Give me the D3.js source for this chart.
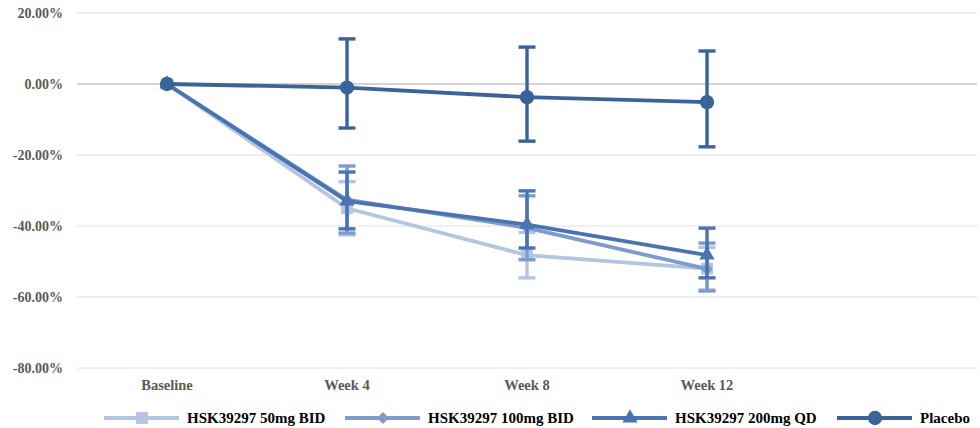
<!DOCTYPE html>
<html>
<head>
<meta charset="utf-8">
<script src="https://cdn.jsdelivr.net/npm/d3@7"></script>
<style>
  body { margin: 0; background: #fff; }
  text { font-family: "Liberation Serif", "Times New Roman", serif; font-weight: bold; }
</style>
</head>
<body>
<svg width="980" height="428"></svg>
<script>
// data
const categories = ["Baseline", "Week 4", "Week 8", "Week 12"];
const yTicks = [20, 0, -20, -40, -60, -80];

const seriesNames = ["HSK39297 50mg BID", "HSK39297 100mg BID", "HSK39297 200mg QD", "Placebo"];
const mean50 = [0, -35.0, -48.2, -52.0];
const low50 = [0, -42.5, -54.6, -58.0];
const high50 = [0, -27.5, -41.8, -46.0];
const mean100 = [0, -32.6, -40.5, -52.1];
const low100 = [0, -42.0, -49.5, -58.3];
const high100 = [0, -23.1, -31.5, -44.8];
const mean200 = [0, -33.0, -39.6, -48.2];
const low200 = [0, -40.8, -46.2, -54.6];
const high200 = [0, -24.8, -30.1, -40.6];
const meanPlacebo = [0, -1.0, -3.7, -5.1];
const lowPlacebo = [0, -12.4, -16.1, -17.7];
const highPlacebo = [0, 12.7, 10.4, 9.3];

const colors = ["#b4c5e3", "#7d9bcc", "#4a73b1", "#3a6398"];
const markers = ["square", "diamond", "triangle", "circle"];

const series = [
  {name: seriesNames[0], mean: mean50, low: low50, high: high50},
  {name: seriesNames[1], mean: mean100, low: low100, high: high100},
  {name: seriesNames[2], mean: mean200, low: low200, high: high200},
  {name: seriesNames[3], mean: meanPlacebo, low: lowPlacebo, high: highPlacebo}
];

const svg = d3.select("svg");
const left = 77, right = 977;

const x = d3.scaleBand()
    .domain(categories)
    .range([left, left + 720]);

const y = d3.scaleLinear()
    .domain([-80, 20])
    .range([368, 13]);

const cx = c => x(c) + x.bandwidth() / 2;

// gridlines
svg.append("g")
    .selectAll("line")
    .data(yTicks)
    .enter().append("line")
    .attr("x1", left).attr("x2", right)
    .attr("y1", d => y(d)).attr("y2", d => y(d))
    .attr("stroke", d => d === 0 ? "#d4d4d4" : "#e0e0e0")
    .attr("stroke-width", d => d === 0 ? 2.2 : 1);

// y labels
svg.append("g")
    .selectAll("text")
    .data(yTicks)
    .enter().append("text")
    .attr("x", 63)
    .attr("y", d => y(d))
    .attr("dy", "0.35em")
    .attr("text-anchor", "end")
    .attr("font-size", 14)
    .attr("fill", "#595959")
    .text(d => d.toFixed(2) + "%");

// x labels
svg.append("g")
    .selectAll("text")
    .data(categories)
    .enter().append("text")
    .attr("x", d => cx(d))
    .attr("y", 390)
    .attr("text-anchor", "middle")
    .attr("font-size", 14.5)
    .attr("fill", "#595959")
    .text(d => d);

// marker shapes (diamond = square turned 45deg)
const symbolFor = {
  square: d3.symbol().type(d3.symbolSquare).size(140),
  diamond: d3.symbol().type(d3.symbolSquare).size(72),
  triangle: d3.symbol().type(d3.symbolTriangle).size(100),
  circle: d3.symbol().type(d3.symbolCircle).size(160)
};
const rot = m => m === "diamond" ? " rotate(45)" : "";

const line = d3.line()
    .x((d, i) => cx(categories[i]))
    .y(d => y(d));

series.forEach((s, k) => {
  const g = svg.append("g");
  const col = colors[k];

  // line
  g.append("path")
      .attr("d", line(s.mean))
      .attr("fill", "none")
      .attr("stroke", col)
      .attr("stroke-width", 3.8)
      .attr("stroke-linejoin", "round");

  // error bars
  const eb = g.selectAll(".eb")
      .data(categories.map((c, i) => ({c, lo: s.low[i], hi: s.high[i]})).filter(d => d.lo !== d.hi))
      .enter().append("g");
  eb.append("line")
      .attr("x1", d => cx(d.c)).attr("x2", d => cx(d.c))
      .attr("y1", d => y(d.hi)).attr("y2", d => y(d.lo))
      .attr("stroke", col).attr("stroke-width", 3.4);
  eb.append("line")
      .attr("x1", d => cx(d.c) - 8.5).attr("x2", d => cx(d.c) + 8.5)
      .attr("y1", d => y(d.hi)).attr("y2", d => y(d.hi))
      .attr("stroke", col).attr("stroke-width", 3.4);
  eb.append("line")
      .attr("x1", d => cx(d.c) - 8.5).attr("x2", d => cx(d.c) + 8.5)
      .attr("y1", d => y(d.lo)).attr("y2", d => y(d.lo))
      .attr("stroke", col).attr("stroke-width", 3.4);

  // markers
  g.selectAll(".mk")
      .data(s.mean)
      .enter().append("path")
      .attr("transform", (d, i) => `translate(${cx(categories[i])},${y(d)})` + rot(markers[k]))
      .attr("d", symbolFor[markers[k]]())
      .attr("fill", col);
});

// legend
const legendX = [104, 345, 592, 837];
const leg = svg.append("g")
    .selectAll("g")
    .data(series)
    .enter().append("g")
    .attr("transform", (d, i) => `translate(${legendX[i]},418)`);
leg.append("line")
    .attr("x1", 0).attr("x2", 75)
    .attr("stroke", (d, i) => colors[i])
    .attr("stroke-width", 3.8);
leg.append("path")
    .attr("transform", (d, i) => "translate(38,0)" + rot(markers[i]))
    .attr("d", (d, i) => symbolFor[markers[i]]())
    .attr("fill", (d, i) => colors[i]);
leg.append("text")
    .attr("x", 83)
    .attr("dy", "0.35em")
    .attr("font-size", 15)
    .attr("fill", "#000")
    .text(d => d.name);
</script>
</body>
</html>
